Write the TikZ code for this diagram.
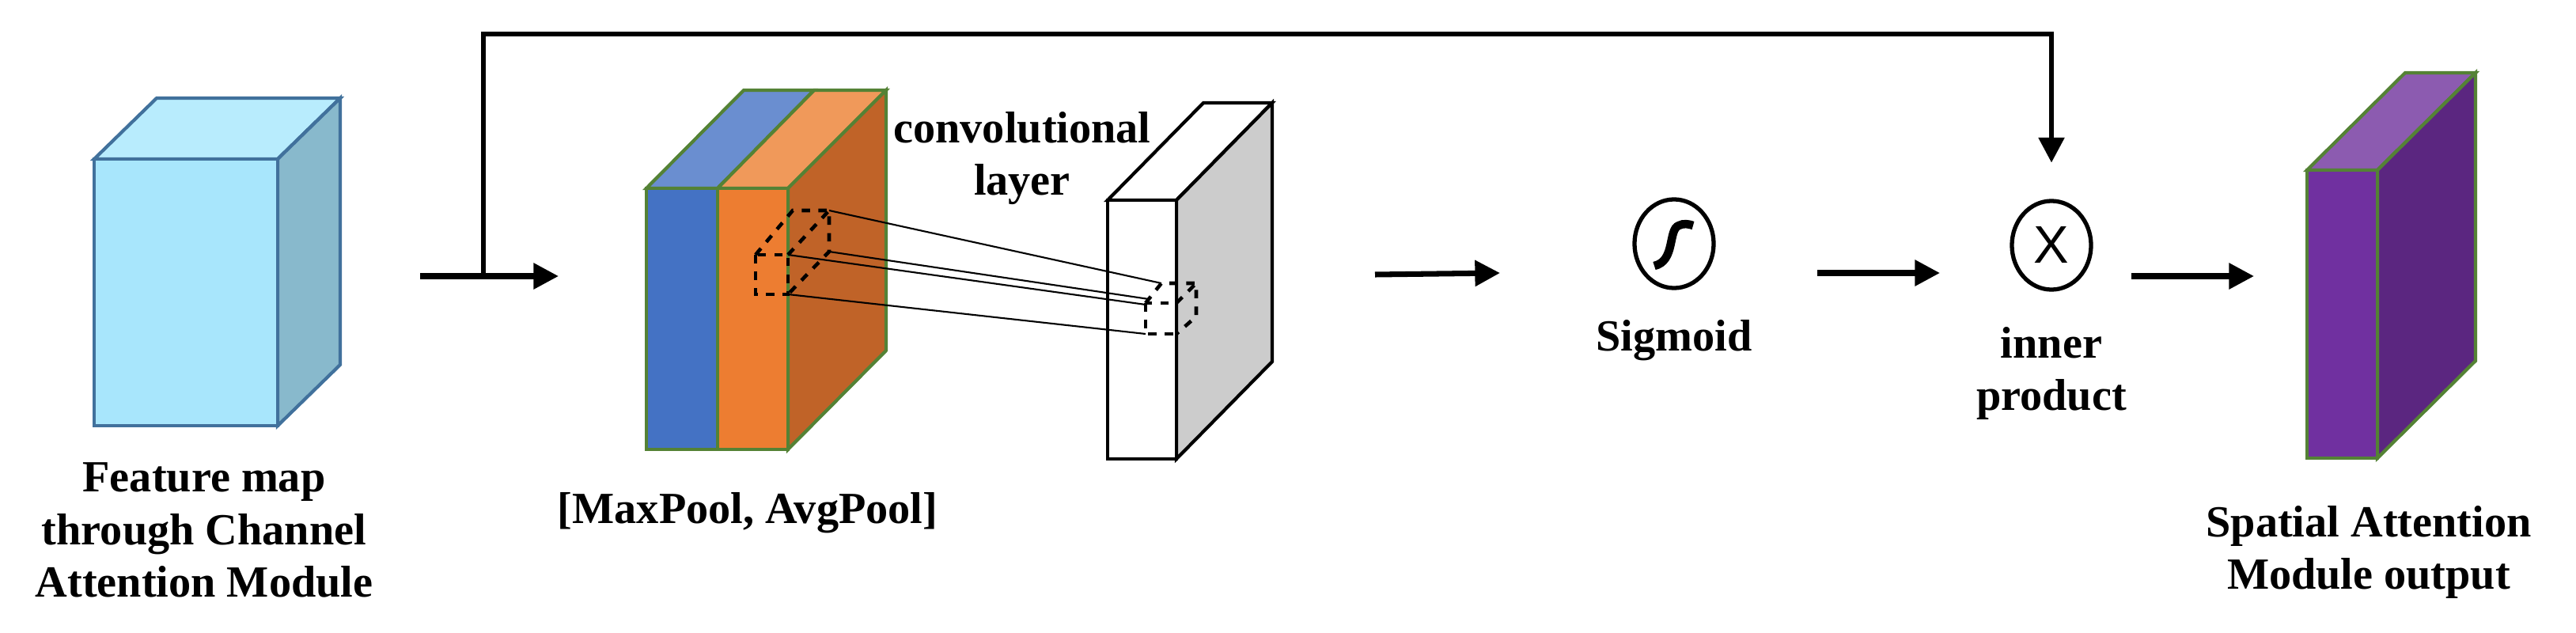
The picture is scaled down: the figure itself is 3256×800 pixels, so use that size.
\documentclass[tikz,border=0pt]{standalone}
\usepackage{fontspec}
\setmainfont{Liberation Serif}
\newfontfamily\sansx{Liberation Sans}
\usetikzlibrary{shapes.geometric,arrows.meta,calc}
\definecolor{cyanfront}{HTML}{A8E6FC}
\definecolor{cyantop}{HTML}{B8ECFD}
\definecolor{cyanside}{HTML}{88B9CC}
\definecolor{cyanedge}{HTML}{41719C}
\definecolor{poolblue}{HTML}{4472C4}
\definecolor{poolbluetop}{HTML}{6A8ED0}
\definecolor{poolorange}{HTML}{ED7D31}
\definecolor{poolorangetop}{HTML}{F0995A}
\definecolor{poolside}{HTML}{C06328}
\definecolor{greenedge}{HTML}{548235}
\definecolor{convside}{HTML}{CCCCCC}
\definecolor{outfront}{HTML}{7030A0}
\definecolor{outtop}{HTML}{8C5BB0}
\definecolor{outside}{HTML}{5B2680}
% cuboid: left, top, right, bottom (front face), dx, dy, front, top, side; edge colour from \cubeedge
\newcommand{\cubeedge}{black}
\newcommand{\cuboid}[9]{%
  \draw[draw=\cubeedge, line width=1.2pt, fill=#8] (#1,#2) -- ++(#5,#6) -- ($(#3,#2)+(#5,#6)$) -- (#3,#2) -- cycle;
  \draw[draw=\cubeedge, line width=1.2pt, fill=#9] (#3,#2) -- ++(#5,#6) -- ($(#3,#4)+(#5,#6)$) -- (#3,#4) -- cycle;
  \draw[draw=\cubeedge, line width=1.2pt, fill=#7] (#1,#2) rectangle (#3,#4);
}
\begin{document}
\begin{tikzpicture}[x=0.01cm, y=-0.01cm]
    \tikzstyle{label}=[font=\fontsize{16}{19}\selectfont\bfseries, align=center, inner sep=0pt]
    \tikzstyle{op}=[ellipse, draw, line width=1.5pt, minimum width=1cm, minimum height=1.12cm, inner sep=0pt]
    \tikzstyle{flow}=[-{Triangle[length=9pt,width=9pt]}, line width=2pt]
    \tikzstyle{ray}=[line width=0.6pt]
    \tikzstyle{kernel}=[dashed, line width=1.3pt]
    \useasboundingbox (0,0) rectangle (3256,800);
    % input feature map
    \renewcommand{\cubeedge}{cyanedge}
    \cuboid{119}{201}{351}{538}{79}{-77}{cyanfront}{cyantop}{cyanside}
    \node[label] (inlabel) at (258,670) {Feature map\\through Channel\\Attention Module};
    % pooled maps
    \draw[draw=greenedge, line width=1.2pt, fill=poolbluetop] (817,238) -- (940,114) -- (1029,114) -- (907,238) -- cycle;
    \draw[draw=greenedge, line width=1.2pt, fill=poolorangetop] (907,238) -- (1029,114) -- (1120,114) -- (996,238) -- cycle;
    \draw[draw=greenedge, line width=1.2pt, fill=poolside] (996,238) -- (1120,114) -- (1120,443) -- (996,568) -- cycle;
    \draw[draw=greenedge, line width=1.2pt, fill=poolblue] (817,238) rectangle (907,568);
    \draw[draw=greenedge, line width=1.2pt, fill=poolorange] (907,238) rectangle (996,568);
    \node[label] (poollabel) at (945,648) {[MaxPool, AvgPool]};
    % convolutional layer
    \renewcommand{\cubeedge}{black}
    \cuboid{1400}{253}{1487}{580}{121}{-123}{white}{white}{convside}
    \node[label] (convlabel) at (1292,200) {convolutional\\layer};
    % kernel on pooled maps
    \coordinate (ka) at (955,322); \coordinate (kb) at (996,322);
    \coordinate (kc) at (996,372); \coordinate (kd) at (955,372);
    \coordinate (ke) at (1002,266); \coordinate (kf) at (1048,266);
    \coordinate (kg) at (1048,318);
    \draw[kernel] (ka) rectangle (kc);
    \draw[kernel] (ka) -- (ke) -- (kf) -- (kg) -- (kc);
    \draw[kernel] (kb) -- (kf);
    % kernel on convolutional layer
    \coordinate (ca) at (1448,383); \coordinate (cb) at (1487,383);
    \coordinate (cc) at (1487,422); \coordinate (cd) at (1448,422);
    \coordinate (ce) at (1468,358); \coordinate (cf) at (1512,358);
    \coordinate (cg) at (1512,400);
    \draw[kernel] (ca) rectangle (cc);
    \draw[kernel] (ca) -- (ce) -- (cf) -- (cg) -- (cc);
    \draw[kernel] (cb) -- (cf);
    \draw[ray] (kf) -- (ce);
    \draw[ray] (kg) -- ($(ca)+(4,-5)$);
    \draw[ray] (kb) -- ($(ca)+(0,2)$);
    \draw[ray] (kc) -- (cd);
    % sigmoid and product
    \node[op] (sig) at (2116,308) {};
    \draw[line width=3pt] (2091,336) .. controls (2118,330) and (2108,290) .. (2122,285) .. controls (2128,282) and (2134,283) .. (2140,285);
    \node[label] (siglabel) at (2116,430) {Sigmoid};
    \node[op] (prod) at (2593,310) {\sansx\fontsize{19}{19}\selectfont X};
    \node[label] (prodlabel) at (2593,472) {inner\\product};
    % output feature map
    \renewcommand{\cubeedge}{greenedge}
    \cuboid{2916}{215}{3005}{579}{124}{-123}{outfront}{outtop}{outside}
    \node[label] (outlabel) at (2994,698) {Spatial Attention\\Module output};
    % connectors
    \coordinate (s0) at (531,349);
    \coordinate (s1) at (706,349);
    \coordinate (split) at (611,349);
    \coordinate (c0) at (1738,347);
    \coordinate (c1) at (1896,345);
    \coordinate (g0) at (2297,345);
    \coordinate (g1) at (2452,345);
    \coordinate (p0) at (2694,349);
    \coordinate (p1) at (2849,349);
    \draw[flow] (s0) -- (s1);
    \draw[flow] (c0) -- (c1);
    \draw[flow] (g0) -- (g1);
    \draw[flow] (p0) -- (p1);
    \draw[flow, line width=1.8pt, shorten >=13pt] (split) |- (2593,43) -- (prod.north);
\end{tikzpicture}
\end{document}
